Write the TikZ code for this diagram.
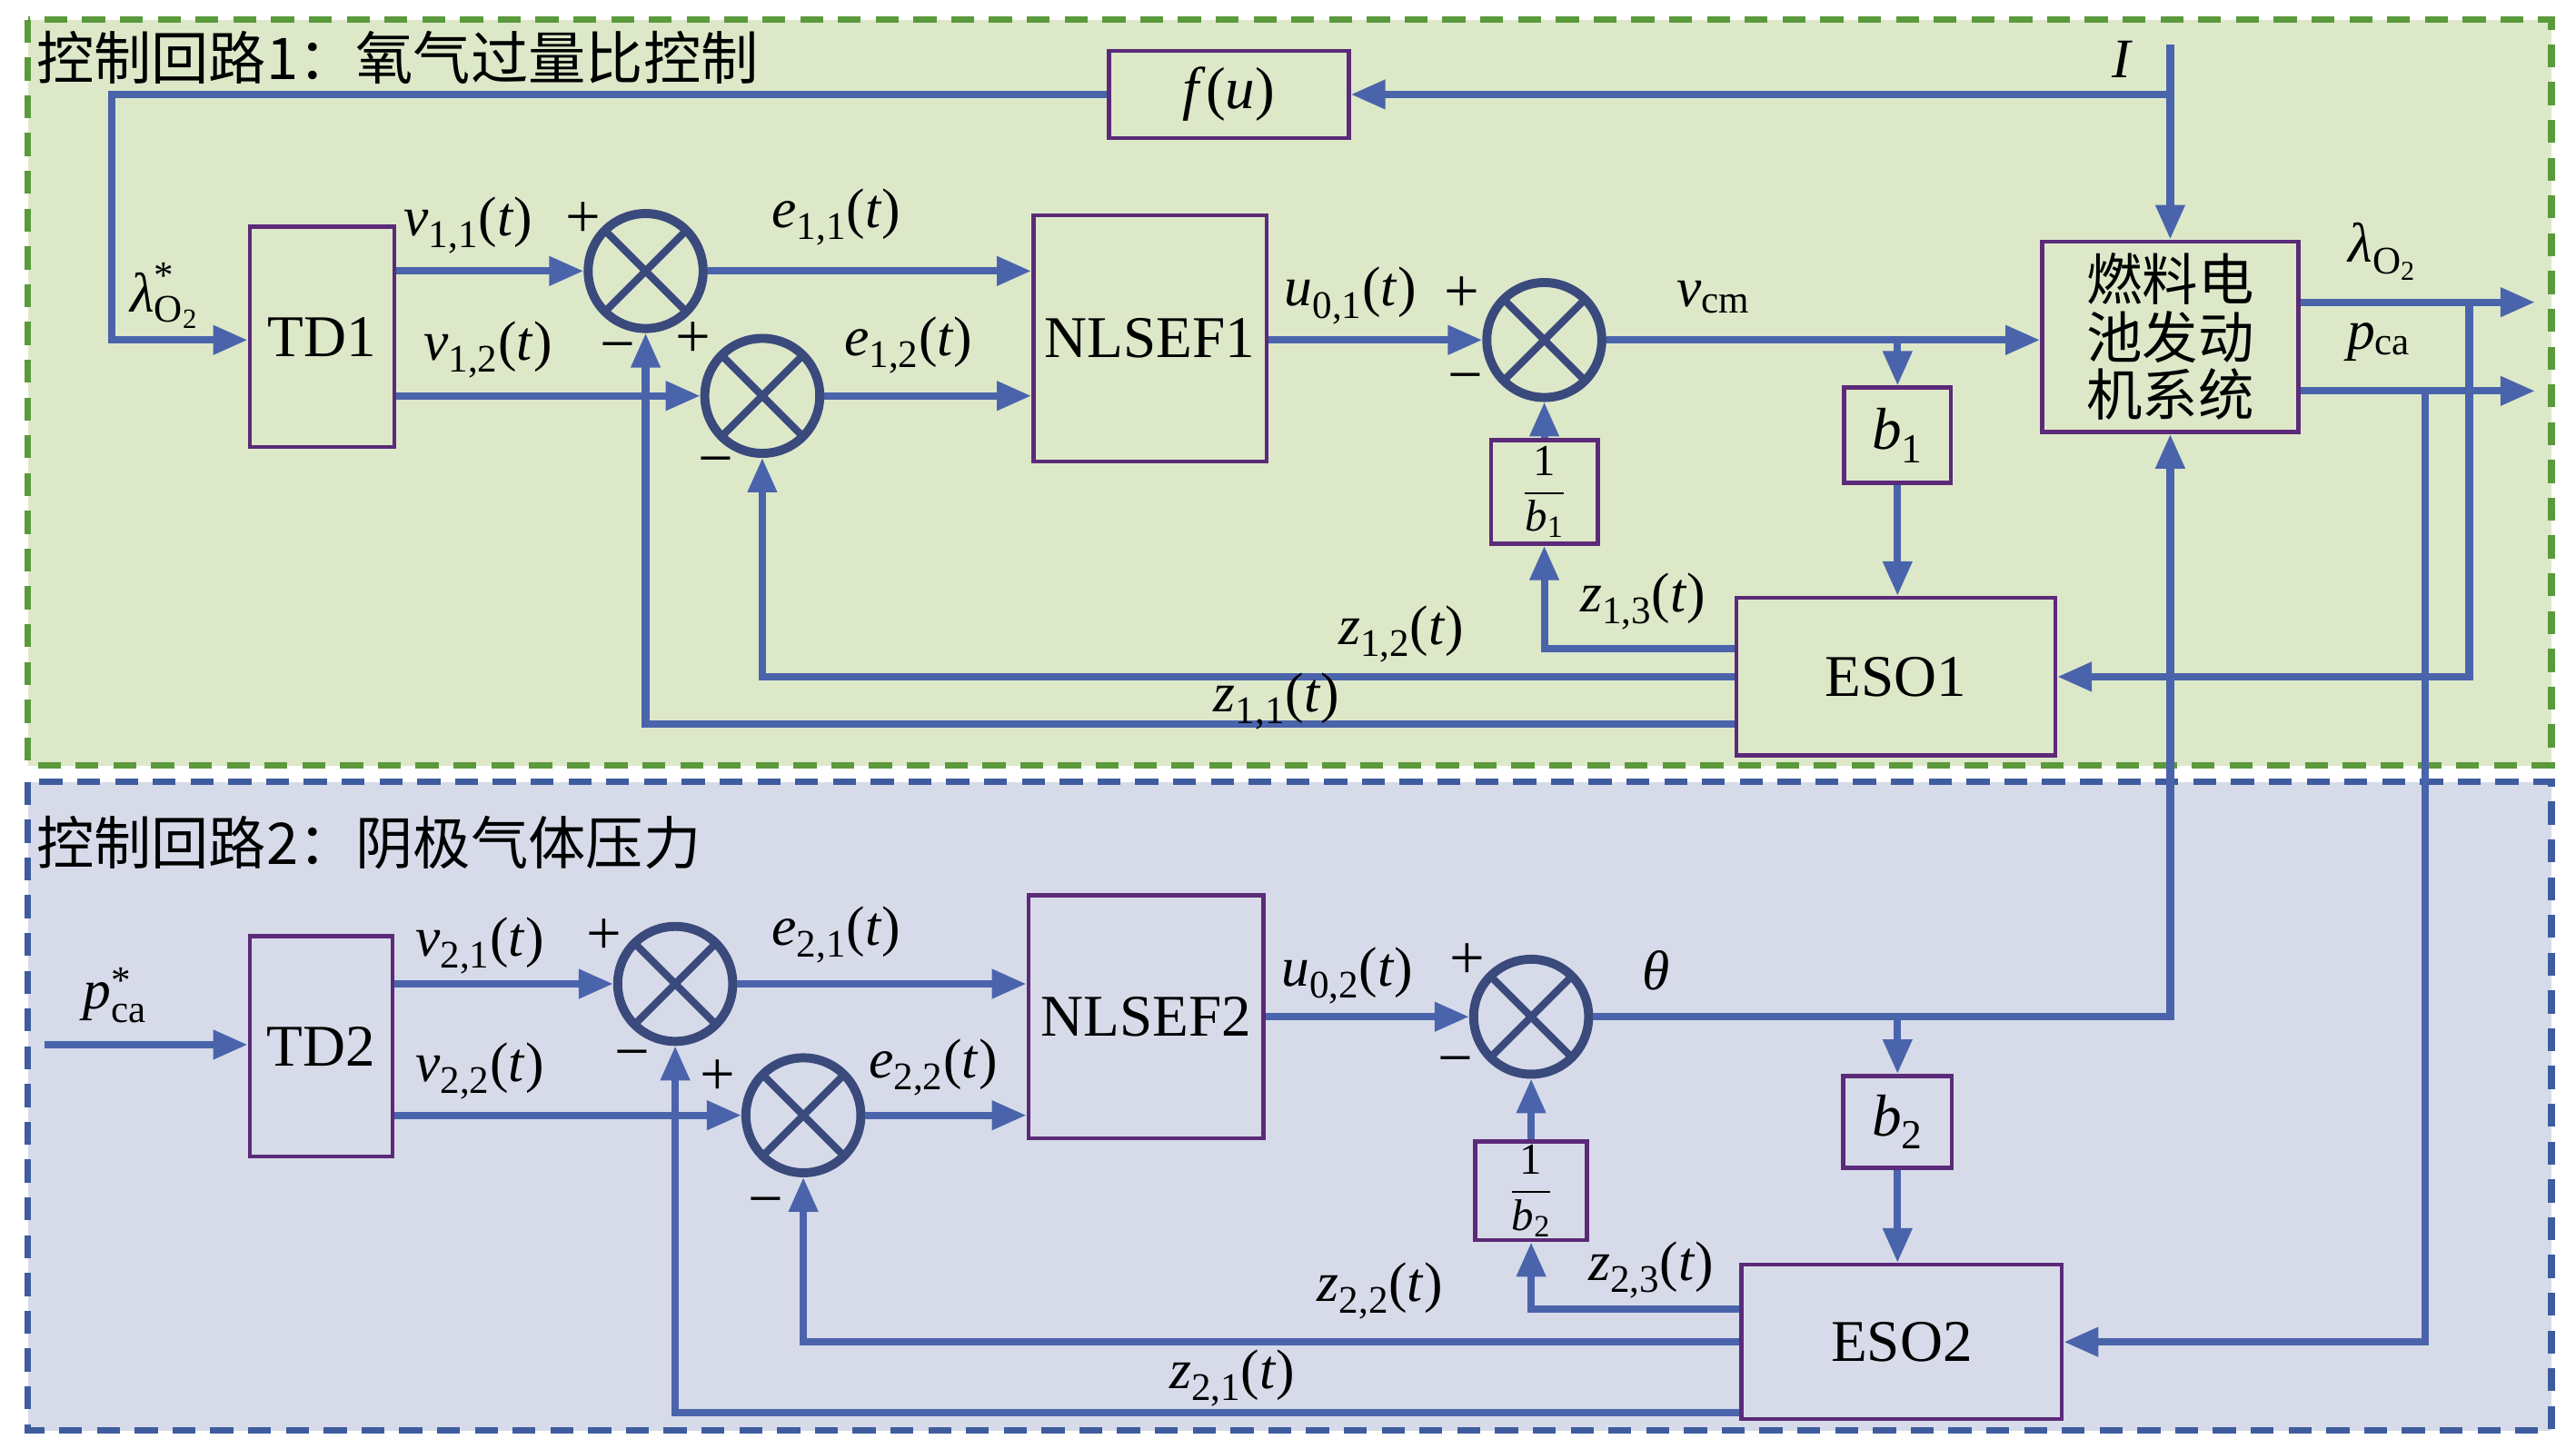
\documentclass[tikz,border=0pt]{standalone}
\usepackage{amsmath}
\usepackage{fontspec}
\setmainfont{Liberation Serif}
\newfontfamily\cjk{Noto Sans CJK SC}
\usetikzlibrary{arrows.meta,calc}
\definecolor{gfill}{HTML}{DDE8C9}
\definecolor{gline}{HTML}{5B9A3C}
\definecolor{bfill}{HTML}{D7DBE9}
\definecolor{bline}{HTML}{3E5C9E}
\definecolor{conn}{HTML}{4A64AC}
\definecolor{sumc}{HTML}{3A4A7C}
\definecolor{boxc}{HTML}{5B2A78}
\newcommand\sig[2]{\textit{#1}\textsubscript{#2}(\textit{t})}
\begin{document}
\begin{tikzpicture}[x=1pt,y=-1pt,
  blk/.style={draw=boxc, line width=2.5pt, inner sep=0pt, font=\fontsize{36}{40}\selectfont},
  sumnode/.style={circle, draw=sumc, line width=5.5pt, minimum size=70pt, inner sep=0pt,
     path picture={\draw[sumc,line width=4.5pt]
        (path picture bounding box.north west) -- (path picture bounding box.south east)
        (path picture bounding box.north east) -- (path picture bounding box.south west);}},
  cn/.style={draw=conn, line width=4.5pt},
  arr/.style={cn, -{Triangle[length=21pt,width=17pt]}},
  lbl/.style={inner sep=0pt, font=\fontsize{34}{38}\selectfont},
  sgn/.style={inner sep=0pt, font=\fontsize{38}{40}\selectfont},
  title/.style={inner sep=0pt, anchor=west, font=\cjk\fontsize{35}{38}\selectfont},
  frac/.style={blk, font=\fontsize{27}{30}\selectfont}
]
\useasboundingbox (0,0) rectangle (1568,876);
\fill[white] (0,0) rectangle (1568,876);
% panels
\fill[gfill] (17,12) rectangle (1553,466);
\draw[gline, line width=4pt, dash pattern=on 14pt off 9pt] (17,12) rectangle (1553,466);
\fill[bfill] (17,476) rectangle (1553,871);
\draw[bline, line width=4pt, dash pattern=on 14pt off 9pt] (17,476) rectangle (1553,871);
\node[title] (t1) at (22,35) {控制回路1：氧气过量比控制};
\node[title] (t2) at (22,513) {控制回路2：阴极气体压力};

% ---------- loop 1 ----------
\node[blk, minimum width=146pt, minimum height=53pt] (fu) at (748,57.5) {\textit{f}(\textit{u})};
\node[blk, minimum width=88pt, minimum height=134pt] (td1) at (196,205) {TD1};
\node[blk, minimum width=142pt, minimum height=150pt] (nl1) at (700,206) {NLSEF1};
\node[blk, minimum width=156pt, minimum height=116pt, align=center, font=\cjk\fontsize{34}{35}\selectfont] (fc) at (1321,205) {燃料电\\池发动\\机系统};
\node[blk, minimum width=65pt, minimum height=58pt] (b1) at (1155,265) {\textit{b}\textsubscript{1}};
\node[frac, minimum width=65pt, minimum height=63pt] (inv1) at (940,299.5) {$\dfrac{\text{1}}{\text{\textit{b}}_{\text{1}}}$};
\node[blk, minimum width=194pt, minimum height=96pt] (eso1) at (1154,412) {ESO1};
\node[sumnode] (s1) at (393,165) {};
\node[sumnode] (s2) at (464,241) {};
\node[sumnode] (s3) at (940,207) {};

\coordinate (Itop) at (1321,27);
\coordinate (lamin) at (68,207);
\coordinate (lamout) at (1543,184);
\coordinate (pcaout) at (1543,238);
\coordinate (fbl) at (1503,184);
\coordinate (fbp) at (1476,238);

\draw[arr] (Itop) -- (fc.north);
\draw[arr] (Itop |- fu.east) -- (fu.east);
\draw[arr] (fu.west) -| (lamin) -- (lamin -| td1.west);
\draw[arr] (td1.east |- s1.west) -- (s1.west);
\draw[arr] (td1.east |- s2.west) -- (s2.west);
\draw[arr] (s1.east) -- (s1.east -| nl1.west);
\draw[arr] (s2.east) -- (s2.east -| nl1.west);
\draw[arr] (nl1.east |- s3.west) -- (s3.west);
\draw[arr] (s3.east) -- (s3.east -| fc.west);
\draw[arr] (s3.east -| b1.north) -- (b1.north);
\draw[arr] (b1.south) -- (b1.south |- eso1.north);
\draw[arr] (inv1.north) -- (s3.south);
\draw[arr] ($(eso1.west)+(0,-17)$) -| (inv1.south);
\draw[arr] (eso1.west) -| (s2.south);
\draw[arr] ($(eso1.west)+(0,29)$) -| (s1.south);
\draw[arr] (lamout -| fc.east) -- (lamout);
\draw[arr] (pcaout -| fc.east) -- (pcaout);
\draw[arr] (fbl) |- (eso1.east);

\node[lbl] (lI) at (1292,36) {\textit{I}};
\node[lbl] (llam) at (100,180) {$\text{\textit{λ}}^{\text{*}}_{\text{O}_{\text{2}}}$};
\node[lbl] (lv11) at (285,137) {\sig{v}{1,1}};
\node[lbl] (lv12) at (297,213) {\sig{v}{1,2}};
\node[lbl] (le11) at (509,132) {\sig{e}{1,1}};
\node[lbl] (le12) at (553,210) {\sig{e}{1,2}};
\node[lbl] (lu01) at (822,180) {\sig{u}{0,1}};
\node[lbl] (lvcm) at (1043,181) {\textit{v}\textsubscript{cm}};
\node[lbl] (lz13) at (1000,366) {\sig{z}{1,3}};
\node[lbl] (lz12) at (853,386) {\sig{z}{1,2}};
\node[lbl] (lz11) at (777,427) {\sig{z}{1,1}};
\node[lbl] (llo) at (1450,153) {\textit{λ}\textsubscript{O\textsubscript{2}}};
\node[lbl] (lpca) at (1448,208) {\textit{p}\textsubscript{ca}};
\node[sgn] (p1) at (355,134) {+};
\node[sgn] (m1) at (376,215) {−};
\node[sgn] (p2) at (422,207) {+};
\node[sgn] (m2) at (436,285) {−};
\node[sgn] (p3) at (890,179) {+};
\node[sgn] (m3) at (892,234) {−};

% ---------- loop 2 ----------
\node[blk, minimum width=87pt, minimum height=134pt] (td2) at (195.5,637) {TD2};
\node[blk, minimum width=143pt, minimum height=148pt] (nl2) at (697.5,619) {NLSEF2};
\node[blk, minimum width=66pt, minimum height=56pt] (b2) at (1155,683) {\textit{b}\textsubscript{2}};
\node[frac, minimum width=68pt, minimum height=60pt] (inv2) at (932,725) {$\dfrac{\text{1}}{\text{\textit{b}}_{\text{2}}}$};
\node[blk, minimum width=195pt, minimum height=94pt] (eso2) at (1157.5,817) {ESO2};
\node[sumnode] (s4) at (411,599) {};
\node[sumnode] (s5) at (489,679) {};
\node[sumnode] (s6) at (932,619) {};

\coordinate (pin) at (27,636);
\draw[arr] (pin) -- (pin -| td2.west);
\draw[arr] (td2.east |- s4.west) -- (s4.west);
\draw[arr] (td2.east |- s5.west) -- (s5.west);
\draw[arr] (s4.east) -- (s4.east -| nl2.west);
\draw[arr] (s5.east) -- (s5.east -| nl2.west);
\draw[arr] (nl2.east |- s6.west) -- (s6.west);
\draw[arr] (s6.east) -| (fc.south);
\draw[arr] (s6.east -| b2.north) -- (b2.north);
\draw[arr] (b2.south) -- (b2.south |- eso2.north);
\draw[arr] (inv2.north) -- (s6.south);
\draw[arr] ($(eso2.west)+(0,-20)$) -| (inv2.south);
\draw[arr] (eso2.west) -| (s5.south);
\draw[arr] ($(eso2.west)+(0,43)$) -| (s4.south);
\draw[arr] (fbp) |- (eso2.east);

\node[lbl] (lpin) at (70,606) {$\text{\textit{p}}^{\text{*}}_{\text{ca}}$};
\node[lbl] (lv21) at (292,576) {\sig{v}{2,1}};
\node[lbl] (lv22) at (292,652) {\sig{v}{2,2}};
\node[lbl] (le21) at (509,569) {\sig{e}{2,1}};
\node[lbl] (le22) at (568,650) {\sig{e}{2,2}};
\node[lbl] (lu02) at (820,594) {\sig{u}{0,2}};
\node[lbl] (lth) at (1008,591) {\textit{θ}};
\node[lbl] (lz23) at (1005,773) {\sig{z}{2,3}};
\node[lbl] (lz22) at (840,786) {\sig{z}{2,2}};
\node[lbl] (lz21) at (750,839) {\sig{z}{2,1}};
\node[sgn] (p4) at (368,570) {+};
\node[sgn] (m4) at (385,646) {−};
\node[sgn] (p5) at (437,656) {+};
\node[sgn] (m5) at (466,736) {−};
\node[sgn] (p6) at (893,585) {+};
\node[sgn] (m6) at (886,650) {−};
\end{tikzpicture}
\end{document}
